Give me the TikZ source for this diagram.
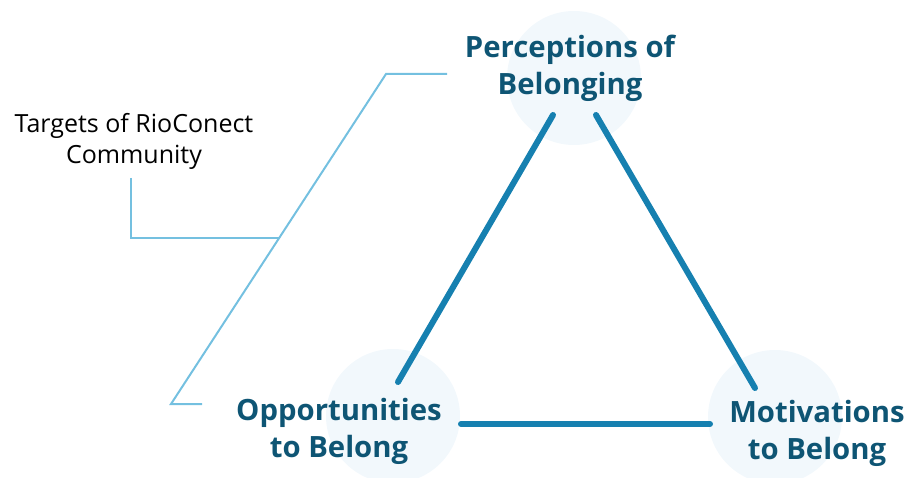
\documentclass[tikz,border=0pt]{standalone}
\usepackage{fontspec}
\setmainfont{Open Sans}
\definecolor{labelc}{HTML}{0E5574}
\definecolor{tric}{HTML}{1680B0}
\definecolor{thinc}{HTML}{74C0E0}
\definecolor{circc}{HTML}{F2F8FC}
\tikzset{
  bubble/.style={circle,fill=circc,minimum size=134pt,inner sep=0pt},
  biglabel/.style={text=labelc,font=\bfseries\fontsize{29.3}{37}\selectfont,align=center,inner sep=0pt},
  smalllabel/.style={text=black,font=\fontsize{25}{31}\selectfont,align=center,inner sep=0pt},
  triline/.style={draw=tric,line width=6pt,line cap=round},
  thinline/.style={draw=thinc,line width=2pt}
}
\begin{document}
\begin{tikzpicture}[x=1pt,y=-1pt]
\useasboundingbox (0,0) rectangle (909,478);
\node[bubble] (ctop) at (574,78) {};
\node[bubble] (cbl) at (393,416) {};
\node[bubble] (cbr) at (775,417) {};
\node[biglabel] (ltop) at (570,68.5) {Perceptions of\\Belonging};
\node[biglabel] (lbl) at (339,431) {Opportunities\\to Belong};
\node[biglabel] (lbr) at (817,433) {Motivations\\to Belong};
\node[smalllabel] (ltarget) at (134,141.5) {Targets of RioConect\\Community};
% triangle end points
\coordinate (t1) at (553,115);
\coordinate (t2) at (398,382);
\coordinate (t3) at (596,115);
\coordinate (t4) at (755,388);
\coordinate (t5) at (461,424);
\coordinate (t6) at (710,424);
\draw[triline] (t1) -- (t2);
\draw[triline] (t3) -- (t4);
\draw[triline] (t5) -- (t6);
% thin annotation lines
\coordinate (s1) at (447,74);
\coordinate (s2) at (386,74);
\coordinate (s3) at (171,404);
\coordinate (s4) at (202,404);
\coordinate (b1) at (131,178);
\coordinate (b2) at (131,238);
\coordinate (b3) at (279,238);
\draw[thinline] (s1) -- (s2) -- (s3) -- (s4);
\draw[thinline] (b1) -- (b2) -- (b3);
\end{tikzpicture}
\end{document}
